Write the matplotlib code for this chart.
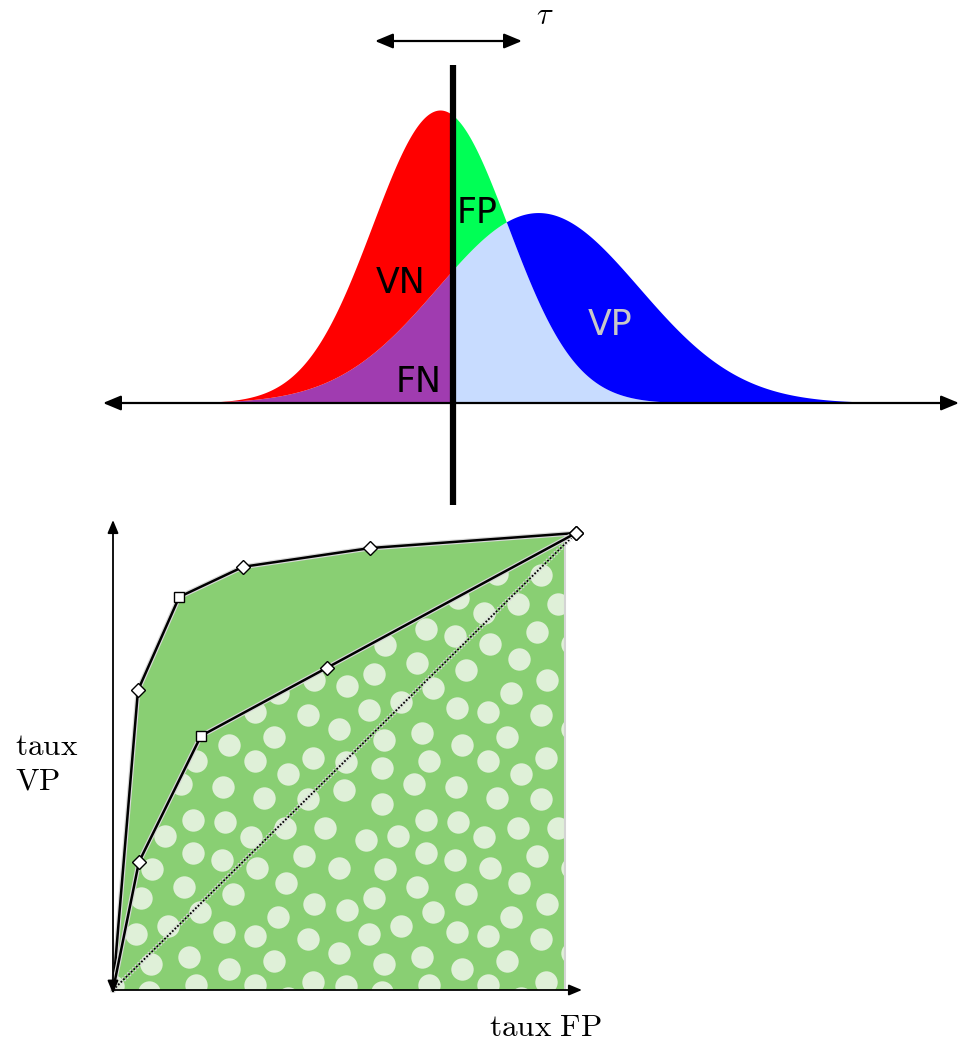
import numpy as np
import matplotlib.pyplot as plt
import matplotlib.patheffects as pe
from matplotlib.patches import Polygon

plt.rcParams['mathtext.fontset'] = 'cm'

# Distributions des scores (unités arbitraires, hauteur relative au pic des négatifs)
neg_center, neg_spread, neg_peak = 0.0, 1.04, 1.0
pos_center, pos_spread, pos_peak = 1.51, 1.55, 0.65
threshold = 0.2

# Courbes ROC (taux FP, taux VP)
fpr_a = [0.0, 0.054, 0.143, 0.281, 0.555, 1.0]
tpr_a = [0.0, 0.656, 0.860, 0.926, 0.967, 1.0]
mark_a = ['', 'D', 's', 'D', 'D', 'D']
fpr_b = [0.0, 0.056, 0.190, 0.462, 1.0]
tpr_b = [0.0, 0.280, 0.556, 0.705, 1.0]
mark_b = ['', 'D', 's', 'D', 'D']
fill_edge = 0.976

# motif à pois (une tuile, en pixels)
dots_tx = [26.7, 59.3, 101, 165.7, 141.7, 185.7, 27.3, 71, 102.7, 42.7, 11, 129, 163.3, 203.3,
           70.7, 100, 135.3, 182.3, 30, 61.7, 19.3, 111, 164.3, 192.3, 78.3, 46, 101.7, 133.3,
           156, 14.3, 185.7, 29, 66.7, 107.3, 152, 191, 74, 133.3, 222.3, 217, 224.7, 217.3, 224]
dots_ty = [2.3, 18.3, 20.7, 8, 31.7, 33.3, 38.3, 54, 55.7, 70, 74, 70.7, 62.3, 62.3,
           86.7, 94, 102.3, 90, 103.3, 120.7, 132.3, 128.3, 117.3, 138.3, 146.3, 160, 166.3, 170,
           151.3, 168.3, 173, 198, 190.7, 203, 194.7, 215.7, 219, 219, 24, 102.3, 144, 187.3, 220]


def bell(x, c, s, h):
    return h * np.exp(-0.5 * ((x - c) / s) ** 2)


fig = plt.figure(figsize=(9.6, 10.44), dpi=100)

# ---------- partie haute : distributions ----------
ax = fig.add_axes([0, 534 / 1044, 1, 510 / 1044])
ax.set_xlim(-440 / 65, 520 / 65)
ax.set_ylim(-107 / 293, 403 / 293)
ax.axis('off')

x = np.linspace(-440 / 65, 520 / 65, 2000)
neg = bell(x, neg_center, neg_spread, neg_peak)
pos = bell(x, pos_center, pos_spread, pos_peak)
low = np.minimum(neg, pos)
left = x <= threshold
right = x >= threshold

ax.fill_between(x, 0, low, where=left, color='#a03cb0', lw=0)
ax.fill_between(x, low, neg, where=left, color='#ff0000', lw=0)
ax.fill_between(x, 0, low, where=right, color='#c8dcff', lw=0)
ax.fill_between(x, low, neg, where=right, color='#00ff55', lw=0)
ax.fill_between(x, low, pos, where=right, color='#0000ff', lw=0)

ax.annotate('', xy=(-337 / 65, 0), xytext=(519 / 65, 0),
            arrowprops=dict(arrowstyle='<|-|>,head_length=0.6,head_width=0.25',
                            mutation_scale=18, lw=1.6, color='black', shrinkA=0, shrinkB=0))
ax.plot([threshold, threshold], [-102 / 293, 338 / 293], color='black', lw=4.5,
        solid_capstyle='butt')
ax.annotate('', xy=(-65 / 65, 362 / 293), xytext=(82 / 65, 362 / 293),
            arrowprops=dict(arrowstyle='<|-|>,head_length=0.6,head_width=0.25',
                            mutation_scale=18, lw=1.6, color='black', shrinkA=0, shrinkB=0))
ax.text(105 / 65, 388 / 293, r'$\tau$', fontsize=22, ha='center', va='center')

ax.text(-0.6, 0.3765, 'VN', fontsize=25, ha='center', va='baseline')
ax.text(0.577, 0.614, 'FP', fontsize=25, ha='center', va='baseline')
ax.text(-0.327, 0.0386, 'FN', fontsize=25, ha='center', va='baseline')
ax.text(2.615, 0.232, 'VP', fontsize=25, ha='center', va='baseline', color='#c8c8c8')

# ---------- partie basse : courbes ROC ----------
bx = fig.add_axes([0, 0, 1, 534 / 1044])
bx.set_xlim(-113 / 463, 847 / 463)
bx.set_ylim(-54 / 457, 480 / 457)
bx.axis('off')

green = '#89cf73'


def clipped_poly(fx, ty):
    fx = np.array(fx)
    ty = np.array(ty)
    keep = fx < fill_edge
    pts = list(zip(fx[keep], ty[keep]))
    pts.append((fill_edge, np.interp(fill_edge, fx, ty)))
    pts.append((fill_edge, 0.0))
    return pts


bx.add_patch(Polygon(clipped_poly(fpr_a, tpr_a), closed=True, facecolor=green,
                     edgecolor='none', zorder=1))
polka = Polygon(clipped_poly(fpr_b, tpr_b), closed=True, facecolor='none',
                edgecolor='none', zorder=1)
bx.add_patch(polka)

tile_w, tile_h = 233 / 463, 224 / 457
x0, y0 = 242 / 463, 224 / 457
dx, dy = [], []
for i in range(-2, 2):
    for j in range(-1, 3):
        dx.extend(x0 + np.array(dots_tx) / 463 + i * tile_w)
        dy.extend(y0 - np.array(dots_ty) / 457 + j * tile_h)
sc = bx.scatter(dx, dy, s=260, color='#dff0d8', linewidths=0, zorder=2)
sc.set_clip_path(polka)

bx.plot([fill_edge, fill_edge], [0, np.interp(fill_edge, fpr_a, tpr_a)],
        color='#d4d4d4', lw=1.5, zorder=2)

halo = [pe.Stroke(linewidth=3.5, foreground='#d8d8d8'), pe.Normal()]
bx.plot([0, 0.99], [0, 0.99], color='black', lw=1.3, ls=(0, (1, 1)),
        path_effects=halo, zorder=3)
bx.plot(fpr_a, tpr_a, color='black', lw=1.8, path_effects=halo, zorder=4)
bx.plot(fpr_b, tpr_b, color='black', lw=1.8, path_effects=halo, zorder=4)
for fx, ty, mk in list(zip(fpr_a, tpr_a, mark_a)) + list(zip(fpr_b, tpr_b, mark_b)):
    if mk:
        bx.plot(fx, ty, marker=mk, ms=7.5 if mk == 's' else 7, mfc='white', mec='black',
                mew=1, zorder=5)

bx.annotate('', xy=(0, -0.008), xytext=(0, 470 / 457),
            arrowprops=dict(arrowstyle='<|-|>,head_length=0.6,head_width=0.25',
                            mutation_scale=13, lw=1.3, color='black', shrinkA=0, shrinkB=0),
            zorder=6)
bx.annotate('', xy=(469 / 463, 0), xytext=(0, 0),
            arrowprops=dict(arrowstyle='-|>,head_length=0.6,head_width=0.25',
                            mutation_scale=13, lw=1.3, color='black', shrinkA=0, shrinkB=0),
            zorder=6)

bx.text(-98 / 463, 235 / 457, r'$\mathrm{taux}$', fontsize=22.5, ha='left', va='baseline')
bx.text(-98 / 463, 200 / 457, r'$\mathrm{VP}$', fontsize=22.5, ha='left', va='baseline')
bx.text(432 / 463, -46 / 457, r'$\mathrm{taux\ FP}$', fontsize=22.5, ha='center', va='baseline')

fig.savefig('out.png', dpi=100)
